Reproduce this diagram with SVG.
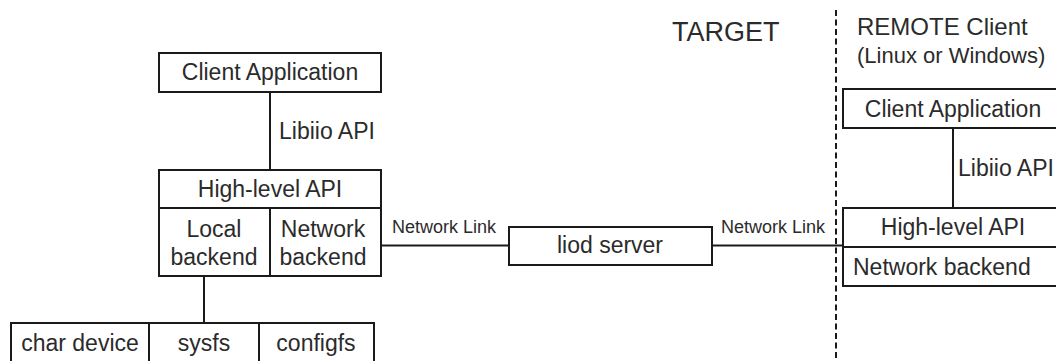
<svg xmlns="http://www.w3.org/2000/svg" width="1056" height="361" viewBox="0 0 1056 361">
<style>
.box{fill:#fff;stroke:#1a1a1a;stroke-width:2}
.ln{stroke:#1a1a1a;stroke-width:2;fill:none}
.t{font-family:"Liberation Sans",Arial,sans-serif;font-size:23px;fill:#2b2b2b}
.m{text-anchor:middle}
.s{font-family:"Liberation Sans",Arial,sans-serif;font-size:18px;fill:#2b2b2b}
</style>
<rect width="1056" height="361" fill="#fff"/>
<g id="connectors">
<line class="ln" x1="270" y1="92" x2="270" y2="170"/>
<line class="ln" x1="204" y1="276" x2="204" y2="323"/>
<line class="ln" x1="381" y1="245.5" x2="509" y2="245.5"/>
<line class="ln" x1="712" y1="245.5" x2="843" y2="245.5"/>
<line class="ln" x1="953" y1="128" x2="953" y2="208"/>
<text class="t" x="279" y="139">Libiio API</text>
<text class="s" x="392" y="233">Network Link</text>
<text class="s" x="721" y="233">Network Link</text>
<text class="t" x="958" y="176">Libiio API</text>
</g>
<g id="divider">
<line class="ln" x1="836" y1="10" x2="836" y2="361" stroke-dasharray="6 3.5"/>
<text class="t" x="672" y="41" style="font-size:27px">TARGET</text>
<text class="t" x="857" y="35" style="font-size:24px">REMOTE Client</text>
<text class="t" x="857" y="63" style="font-size:22px">(Linux or Windows)</text>
</g>
<g id="client-app">
<rect class="box" x="159" y="53" width="222" height="39"/>
<text class="t m" x="270" y="80">Client Application</text>
</g>
<g id="high-level-api">
<rect class="box" x="159" y="170" width="222" height="38"/>
<text class="t m" x="270" y="197">High-level API</text>
</g>
<g id="local-backend">
<rect class="box" x="159" y="208" width="111" height="68"/>
<text class="t m" x="214" y="237">Local</text>
<text class="t m" x="214" y="265">backend</text>
</g>
<g id="network-backend">
<rect class="box" x="270" y="208" width="111" height="68"/>
<text class="t m" x="323" y="237">Network</text>
<text class="t m" x="323" y="265">backend</text>
</g>
<g id="char-device">
<rect class="box" x="11" y="323" width="138" height="50"/>
<text class="t m" x="80" y="351">char device</text>
</g>
<g id="sysfs">
<rect class="box" x="149" y="323" width="110" height="50"/>
<text class="t m" x="204" y="351">sysfs</text>
</g>
<g id="configfs">
<rect class="box" x="259" y="323" width="115" height="50"/>
<text class="t m" x="316" y="351">configfs</text>
</g>
<g id="iiod-server">
<rect class="box" x="509" y="227" width="203" height="38"/>
<text class="t m" x="610" y="253">liod server</text>
</g>
<g id="remote-client-app">
<rect class="box" x="843" y="89" width="230" height="39"/>
<text class="t m" x="953" y="117">Client Application</text>
</g>
<g id="remote-high-level-api">
<rect class="box" x="843" y="208" width="230" height="39"/>
<text class="t m" x="953" y="235">High-level API</text>
</g>
<g id="remote-network-backend">
<rect class="box" x="843" y="247" width="230" height="39"/>
<text class="t" x="853" y="275">Network backend</text>
</g>
</svg>
